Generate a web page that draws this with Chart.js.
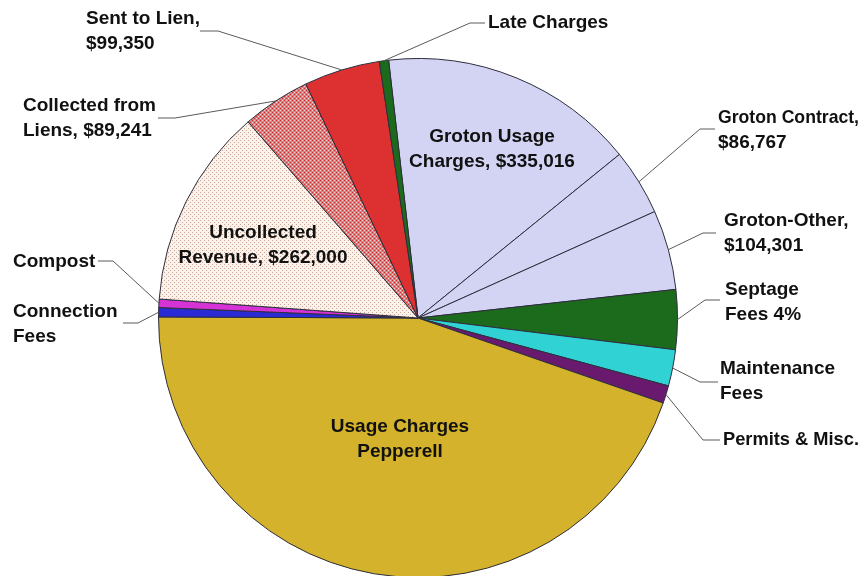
<!DOCTYPE html>
<html lang="en">
<head>
<meta charset="UTF-8">
<title>Receitas</title>
<script src="https://cdn.jsdelivr.net/npm/chart.js"></script>
<style>
    html, body { margin: 0; padding: 0; background: #fff; overflow: hidden; }
    #caixa { position: relative; width: 865px; height: 580px; }
</style>
</head>
<body>
<div id="caixa"><canvas id="pizza"></canvas></div>
<script>
// fatias no sentido horario a partir do topo
var categorias = ['Groton Usage Charges', 'Groton Contract', 'Groton-Other', 'Septage Fees', 'Maintenance Fees',
    'Permits & Misc.', 'Usage Charges Pepperell', 'Connection Fees', 'Compost', 'Uncollected Revenue',
    'Collected from Liens', 'Sent to Lien', 'Late Charges']
var valores = [335016, 86767, 104301, 78000, 47400, 23100, 940000, 12100, 11000, 262000, 89241, 99350, 12100]

var total = valores.reduce(function (a, b) { return a + b }, 0)
function dolar(i) { return '$' + valores[i].toLocaleString('en-US') }
function pct(i) { return Math.round(valores[i] / total * 100) + '%' }

// texto de cada rotulo (linhas)
var textos = [
    ['Groton Usage', 'Charges, ' + dolar(0)],
    ['Groton Contract,', dolar(1)],
    ['Groton-Other,', dolar(2)],
    ['Septage', 'Fees ' + pct(3)],
    ['Maintenance', 'Fees'],
    ['Permits & Misc.'],
    ['Usage Charges', 'Pepperell'],
    ['Connection', 'Fees'],
    ['Compost'],
    ['Uncollected', 'Revenue, ' + dolar(9)],
    ['Collected from', 'Liens, ' + dolar(10)],
    ['Sent to Lien,', dolar(11)],
    ['Late Charges']
]

// onde cada rotulo fica e o caminho da linha guia
var posicoes = [
    { x: 492, y: 137, alinhar: 'center' },
    { x: 718, y: 118, max: [141, 0], guia: [[700, 129], [715, 129]] },
    { x: 724, y: 221, max: [126, 0], guia: [[703, 233], [716, 233]] },
    { x: 725, y: 290, guia: [[705, 300], [720, 300]] },
    { x: 720, y: 369, guia: [[700, 382], [718, 382]] },
    { x: 723, y: 440, max: [136], guia: [[703, 440], [720, 440]] },
    { x: 400, y: 427, alinhar: 'center' },
    { x: 13, y: 312, guia: [[138, 323], [123, 323]] },
    { x: 13, y: 262, guia: [[113, 261], [98, 261]] },
    { x: 263, y: 233, alinhar: 'center' },
    { x: 23, y: 106, guia: [[175, 118], [158, 118]] },
    { x: 86, y: 19, guia: [[218, 31], [200, 31]] },
    { x: 488, y: 23, guia: [[470, 23], [485, 23]] }
]

var ctxPizza = document.getElementById('pizza').getContext('2d')

function padrao(fundo, pontos, tam) {
    var c = document.createElement('canvas')
    c.width = tam; c.height = tam
    var g = c.getContext('2d')
    g.fillStyle = fundo
    g.fillRect(0, 0, tam, tam)
    pontos.forEach(function (p) {
        g.fillStyle = p[2]
        g.fillRect(p[0], p[1], 1, 1)
    })
    return ctxPizza.createPattern(c, 'repeat')
}

var pontilhado = padrao('#FBF3EB', [[0, 0, '#C9A797'], [2, 2, '#C9A797']], 4)
var xadrez = padrao('#CF8585', [[0, 0, '#D42A2A'], [2, 2, '#D42A2A'], [2, 0, '#F4D6D6'], [0, 2, '#F4D6D6']], 4)

var cores = ['#D3D3F4', '#D3D3F4', '#D3D3F4', '#1C6B1C', '#30D2D4', '#6A1A6E', '#D4B22C',
    '#2B2BD6', '#D633D6', pontilhado, xadrez, '#DD3131', '#1C6B1C']

var rotulosPlugin = {
    id: 'rotulos',
    afterDatasetsDraw: function (chart) {
        var ctx = chart.ctx
        var arcos = chart.getDatasetMeta(0).data
        ctx.save()
        ctx.font = 'bold 19px "Liberation Sans", Arial, sans-serif'
        ctx.textBaseline = 'middle'
        ctx.fillStyle = '#111'
        posicoes.forEach(function (p, i) {
            var arco = arcos[i]
            if (p.guia) {
                var meio = (arco.startAngle + arco.endAngle) / 2
                ctx.beginPath()
                ctx.moveTo(arco.x + Math.cos(meio) * arco.outerRadius, arco.y + Math.sin(meio) * arco.outerRadius)
                p.guia.forEach(function (pt) { ctx.lineTo(pt[0], pt[1]) })
                ctx.strokeStyle = '#5a5a5a'
                ctx.lineWidth = 1
                ctx.stroke()
            }
            ctx.textAlign = p.alinhar || 'left'
            textos[i].forEach(function (t, k) {
                if (p.max && p.max[k]) {
                    ctx.fillText(t, p.x, p.y + k * 25, p.max[k])
                } else {
                    ctx.fillText(t, p.x, p.y + k * 25)
                }
            })
        })
        ctx.restore()
    }
}

new Chart(ctxPizza, {
    type: 'pie',
    data: {
        labels: categorias,
        datasets: [{
            data: valores,
            backgroundColor: cores,
            borderColor: '#2d2d3c',
            borderWidth: 1
        }]
    },
    options: {
        responsive: true,
        maintainAspectRatio: false,
        animation: false,
        rotation: -6.5,
        layout: { padding: { top: 58, bottom: 2, left: 158, right: 187 } },
        plugins: {
            legend: { display: false },
            tooltip: { enabled: false }
        }
    },
    plugins: [rotulosPlugin]
})
</script>
</body>
</html>
